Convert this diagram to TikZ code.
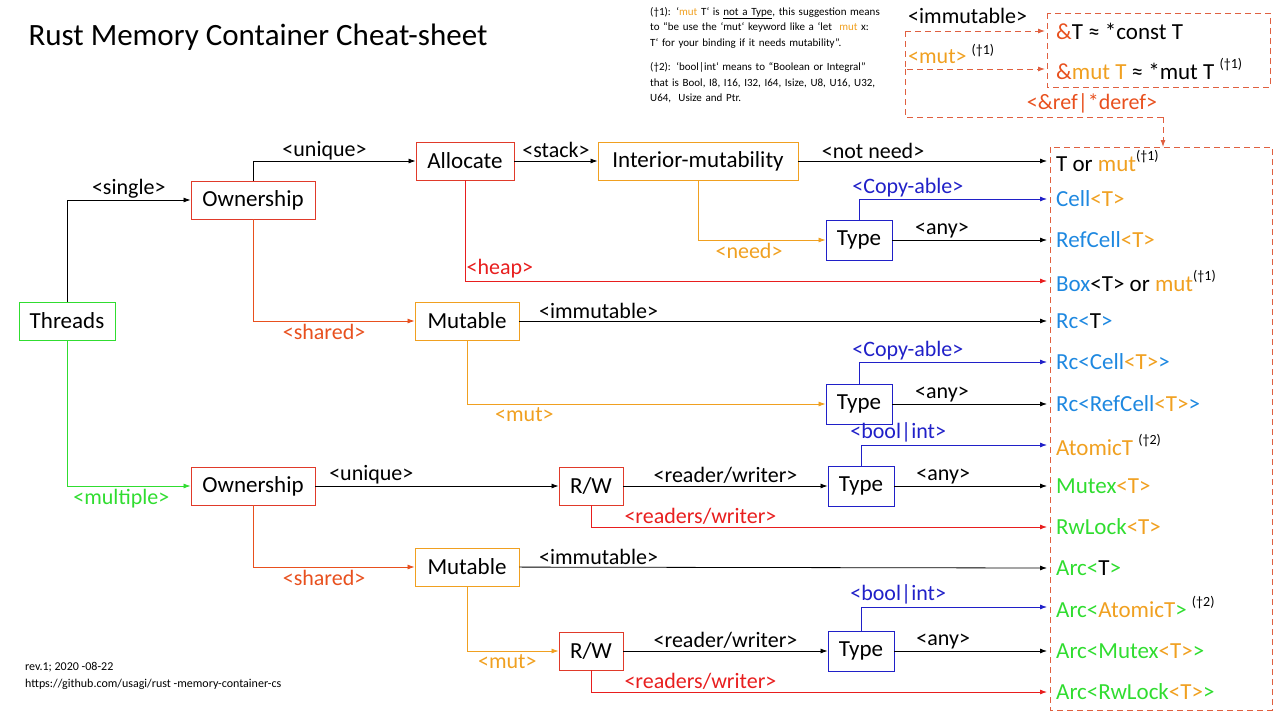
\documentclass[tikz,border=0pt]{standalone}
\usepackage{fontspec}
\setmainfont{Carlito}
\usetikzlibrary{arrows.meta}
\definecolor{cR}{HTML}{E03A2A}
\definecolor{cRO}{HTML}{E8501E}
\definecolor{cOr}{HTML}{F0A020}
\definecolor{cBl}{HTML}{2020C8}
\definecolor{cLB}{HTML}{1E88E0}
\definecolor{cGr}{HTML}{30DD30}
\definecolor{cHR}{HTML}{E81E1E}
\definecolor{cDash}{HTML}{E06040}
\newcommand{\cb}[1]{\textcolor{cLB}{#1}}
\newcommand{\co}[1]{\textcolor{cOr}{#1}}
\newcommand{\cg}[1]{\textcolor{cGr}{#1}}
\newcommand{\ds}[1]{\raisebox{0.45em}{\fontsize{14}{15}\selectfont #1}}
\begin{document}
\begin{tikzpicture}[x=1pt,y=-1pt,
  box/.style={draw,line width=0.9pt,minimum height=38pt,inner xsep=8pt,font=\fontsize{23}{26}\selectfont},
  bR/.style={box,draw=cR}, bO/.style={box,draw=cOr}, bB/.style={box,draw=cBl,minimum width=66pt,minimum height=40pt}, bG/.style={box,draw=cGr},
  arr/.style={-{Latex[length=7pt,width=5pt]},line width=0.8pt},
  lbl/.style={font=\fontsize{22}{24}\selectfont,inner sep=1pt},
  res/.style={anchor=west,font=\fontsize{23}{26}\selectfont,inner sep=0pt},
  dsh/.style={draw=cDash,dashed,dash pattern=on 6pt off 4pt,line width=0.9pt}]
\useasboundingbox (0,0) rectangle (1280,720);
\node[anchor=west,font=\fontsize{31}{34}\selectfont] (title) at (25,37) {Rust Memory Container Cheat-sheet};
\node[anchor=north west,align=left,text width=232pt,font=\fontsize{11}{15.5}\selectfont,inner sep=0pt] (notes) at (650,7)
 {\raggedright\hyphenpenalty=10000 (†1): `\co{mut} T` is \underline{not a Type}, this suggestion means to “be use the `mut` keyword like a `let \ \co{mut} x: T` for your binding if it needs mutability”.\\[9pt]
  (†2): `bool|int` means to “Boolean or Integral” that is Bool, I8, I16, I32, I64, Isize, U8, U16, U32, U64, \ Usize and Ptr.};
\node[anchor=west,align=left,font=\fontsize{12}{17}\selectfont,inner sep=0pt] (rev) at (25,676) {rev.1; 2020 -08-22\\https://github.com/usagi/rust -memory-container-cs};
% boxes
\node[bG,minimum width=96pt] (thr) at (67,321) {Threads};
\node[bR,minimum width=124pt] (own1) at (253,200) {Ownership};
\node[bR,minimum width=98pt] (alloc) at (465,161) {Allocate};
\node[bO,minimum width=200pt] (intm) at (698,161) {Interior-mutability};
\node[bB] (ty1) at (859,240) {Type};
\node[bO,minimum width=104pt] (mut1) at (467,321) {Mutable};
\node[bB] (ty2) at (859,404) {Type};
\node[bR,minimum width=124pt] (own2) at (253,486) {Ownership};
\node[bR,minimum width=64pt] (rw1) at (591,486) {R/W};
\node[bB] (ty3) at (861,486) {Type};
\node[bO,minimum width=104pt] (mut2) at (467,567) {Mutable};
\node[bR,minimum width=64pt] (rw2) at (591,651) {R/W};
\node[bB] (ty4) at (861,651) {Type};
% results
\draw[dsh] (1050,147) rectangle (1272,710);
\foreach \i/\y in {1/161,2/199,3/240,4/281,5/321,6/362,7/404,8/445,9/486,10/527,11/568,12/607,13/651,14/692}{\coordinate (t\i) at (1047,\y);}
\node[res] (r1) at (1056,161) {T or \co{mut}\ds{(†1)}};
\node[res] (r2) at (1056,199) {\cb{Cell}\co{<T>}};
\node[res] (r3) at (1056,240) {\cb{RefCell}\co{<T>}};
\node[res] (r4) at (1056,281) {\cb{Box}<T> or \co{mut}\ds{(†1)}};
\node[res] (r5) at (1056,321) {\cb{Rc<}T\cb{>}};
\node[res] (r6) at (1056,362) {\cb{Rc<Cell}\co{<T>}\cb{>}};
\node[res] (r7) at (1056,404) {\cb{Rc<RefCell}\co{<T>}\cb{>}};
\node[res] (r8) at (1056,445) {\co{AtomicT} \ds{(†2)}};
\node[res] (r9) at (1056,486) {\cg{Mutex}\co{<T>}};
\node[res] (r10) at (1056,527) {\cg{RwLock}\co{<T>}};
\node[res] (r11) at (1056,568) {\cg{Arc<}T\cg{>}};
\node[res] (r12) at (1056,607) {\cg{Arc<}\co{AtomicT}\cg{>} \ds{(†2)}};
\node[res] (r13) at (1056,651) {\cg{Arc<Mutex}\co{<T>}\cg{>}};
\node[res] (r14) at (1056,692) {\cg{Arc<RwLock}\co{<T>}\cg{>}};
% top refs box
\draw[dsh] (1047,13) rectangle (1270,87);
\node[res] (ref1) at (1056,31) {\textcolor{cRO}{\&}T ≈ *const T};
\node[res] (ref2) at (1056,69) {\textcolor{cRO}{\&}\co{mut T} ≈ *mut T \ds{(†1)}};
\coordinate (rb) at (905,117);
\coordinate (rc) at (1163,117);
\coordinate (rd) at (1163,147);
\draw[dsh,-{Latex[length=7pt,width=5pt]}] (905,31) |- (1045,31);
\draw[dsh,-{Latex[length=7pt,width=5pt]}] (905,31) |- (1045,69);
\draw[dsh] (905,69) -- (rb) -- (rc);
\draw[dsh,-{Latex[length=7pt,width=5pt]}] (rc) -- (rd);
\node[lbl,anchor=west] at (907,16) {<immutable>};
\node[lbl,anchor=west] at (907,54) {\co{<mut>} \ds{(†1)}};
\node[lbl,text=cRO] at (1092,103) {<\&ref|*deref>};
% connectors
\draw[arr] (thr.north) |- (own1.west) node[lbl,pos=0.75,above] {<single>};
\draw[arr,cGr] (thr.south) |- (own2.west) node[lbl,pos=0.72,below=2pt,text=cGr] {<multiple>};
\draw[arr] (own1.north) |- (alloc.west) node[lbl,pos=0.72,above] {<unique>};
\draw[arr,cRO] (own1.south) |- (mut1.west) node[lbl,pos=0.72,below=2pt] {<shared>};
\draw[arr] (alloc) -- (intm) node[lbl,midway,above=2pt] {<stack>};
\draw[arr,cHR] (alloc.south) |- (t4) node[lbl,pos=0.53,above=2pt,text=cHR] {<heap>};
\draw[arr] (intm) -- (t1) node[lbl,pos=0.3,above=1pt] {<not need>};
\draw[arr,cOr] (intm.south) |- (ty1.west) node[lbl,pos=0.7,below=2pt] {<need>};
\draw[arr,cBl] (ty1.north) |- (t2) node[lbl,pos=0.63,above=1pt] {<Copy-able>};
\draw[arr] (ty1) -- (t3) node[lbl,pos=0.32,above=1pt] {<any>};
\draw[arr] (mut1) -- (t5) node[lbl,pos=0.15,above=1pt] {<immutable>};
\draw[arr,cOr] (mut1.south) |- (ty2.west) node[lbl,pos=0.58,below=2pt] {<mut>};
\draw[arr,cBl] (ty2.north) |- (t6) node[lbl,pos=0.63,above=1pt] {<Copy-able>};
\draw[arr] (ty2) -- (t7) node[lbl,pos=0.32,above=1pt] {<any>};
\draw[arr] (own2) -- (rw1) node[lbl,pos=0.23,above=1pt] {<unique>};
\draw[arr,cRO] (own2.south) |- (mut2.west) node[lbl,pos=0.72,below=2pt] {<shared>};
\draw[arr] (rw1) -- (ty3) node[lbl,midway,above=1pt] {<reader/writer>};
\draw[arr,cHR] (rw1.south) |- (t10) node[lbl,pos=0.62,above=1pt] {<readers/writer>};
\draw[arr,cBl] (ty3.north) |- (t8) node[lbl,pos=0.6,above=1pt] {<bool|int>};
\draw[arr] (ty3) -- (t9) node[lbl,pos=0.32,above=1pt] {<any>};
\draw[arr] (mut2) -- (t11) node[lbl,pos=0.15,above=1pt] {<immutable>};
\draw[arr,cOr] (mut2.south) |- (rw2.west) node[lbl,pos=0.72,below=2pt] {<mut>};
\draw[arr] (rw2) -- (ty4) node[lbl,midway,above=1pt] {<reader/writer>};
\draw[arr,cHR] (rw2.south) |- (t14) node[lbl,pos=0.62,above=1pt] {<readers/writer>};
\draw[arr,cBl] (ty4.north) |- (t12) node[lbl,pos=0.6,above=1pt] {<bool|int>};
\draw[arr] (ty4) -- (t13) node[lbl,pos=0.32,above=1pt] {<any>};
\end{tikzpicture}
\end{document}
